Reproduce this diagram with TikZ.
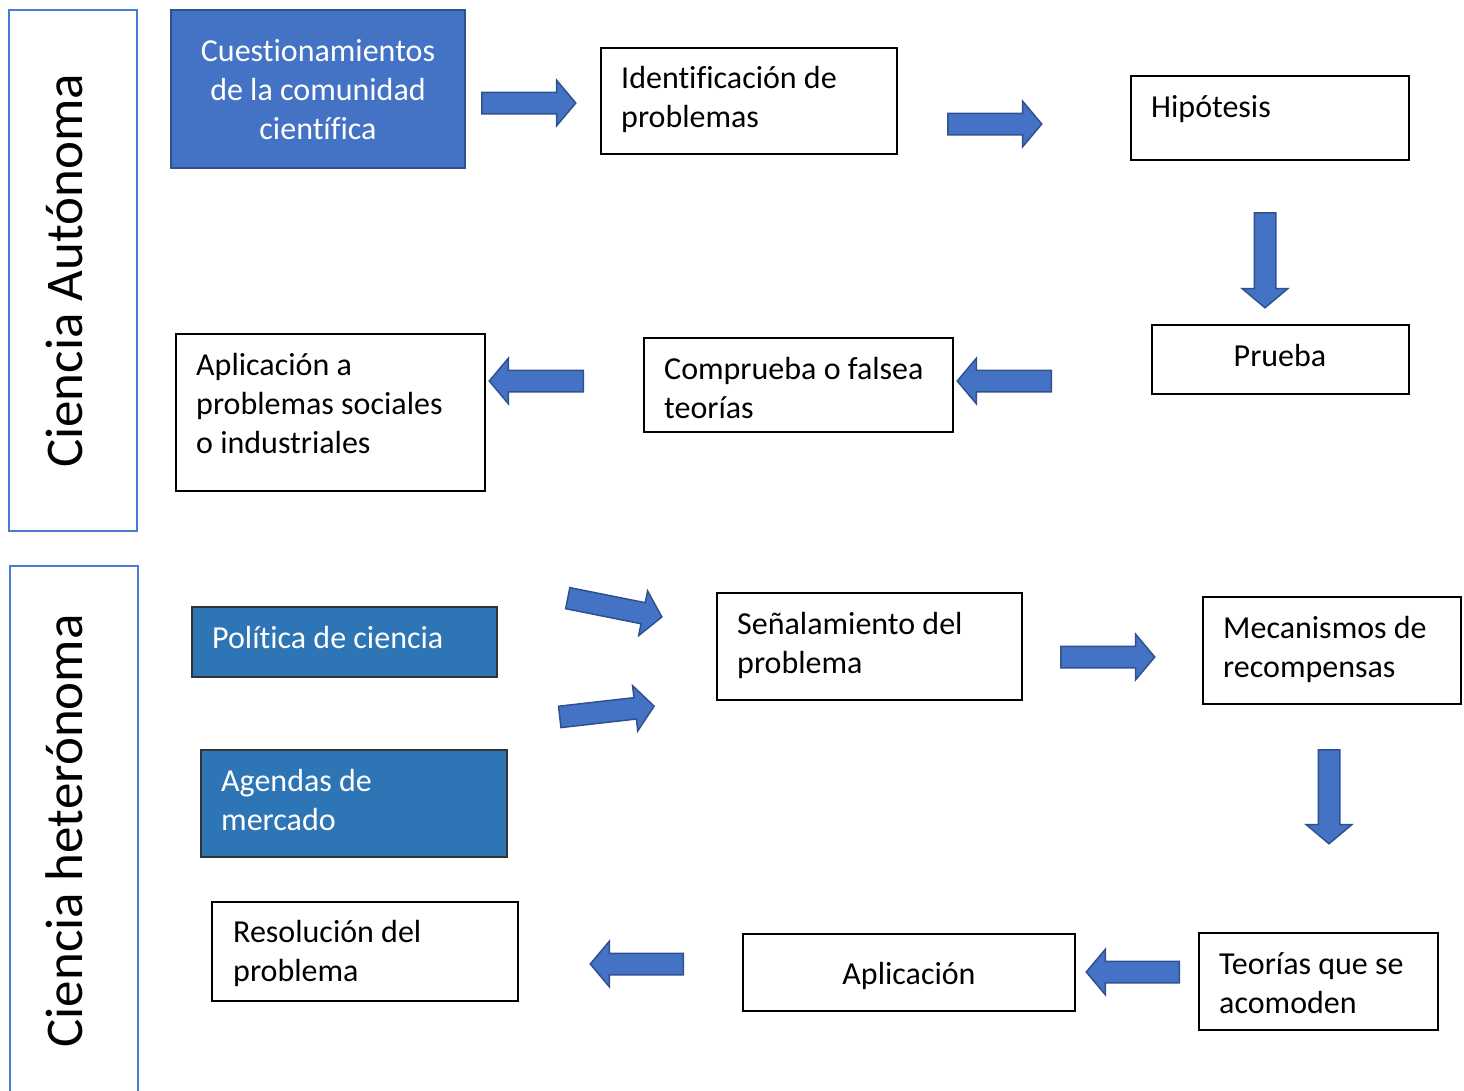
\documentclass[tikz,border=0pt]{standalone}
\usepackage{fontspec}
\setmainfont[Ligatures={NoCommon}]{Carlito}
\usetikzlibrary{shapes.arrows}
\definecolor{accent}{HTML}{4472C4}
\definecolor{accentdk}{HTML}{2F528F}
\definecolor{bluetwo}{HTML}{2E75B6}
\definecolor{panelcol}{HTML}{4A7BD2}
\newcommand\boxat[5]{\node[box,minimum width=#4pt,minimum height=#5pt] (#1) at (#2,#3) {};}
\begin{document}
\begin{tikzpicture}[x=1pt,y=-1pt,
  box/.style={draw=black,line width=1.2pt,inner sep=0pt,outer sep=0pt,anchor=north west},
  filledbox/.style={box,fill=accent,draw=accentdk,line width=2pt},
  filledboxtwo/.style={box,fill=bluetwo,draw=black!80,line width=1.2pt},
  txt/.style={inner sep=0pt,align=left,anchor=north west,font=\fontsize{32}{39}\selectfont},
  ctxt/.style={txt,align=center,anchor=north},
  panel/.style={draw=panelcol,line width=2.5pt},
  plabel/.style={rotate=90,inner sep=0pt,font=\fontsize{53}{64}\selectfont},
  barrow/.style={single arrow,draw=accentdk,fill=accent,line width=1.5pt,
    inner xsep=0pt,inner ysep=10pt,text height=0pt,text depth=0pt,text width=0pt,
    single arrow head extend=12pt,single arrow tip angle=100,anchor=tail,minimum height=94pt}
]
\useasboundingbox (0,0) rectangle (1464,1090);

% panels
\node[panel,draw,inner sep=0pt,outer sep=0pt,anchor=north west,minimum width=128pt,minimum height=521pt] (p1) at (9,10) {};
\node[plabel] (pl1) at (64,271) {Ciencia Autónoma};
\coordinate (p2a) at (10,1095);
\coordinate (p2b) at (10,566);
\coordinate (p2c) at (138,566);
\coordinate (p2d) at (138,1095);
\draw[panel] (p2a) -- (p2b) -- (p2c) -- (p2d);
\node[plabel] (pl2) at (64,831) {Ciencia heterónoma};

% top section boxes
\node[filledbox,minimum width=294pt,minimum height=158pt] (cq) at (171,10) {};
\node[ctxt,text=white] (cqt) at (318,34.2) {\strut Cuestionamientos\\de la comunidad\\científica};

\boxat{idp}{601}{48}{296}{106}
\node[txt] (idpt) at (621,61.2) {\strut Identificación de\\problemas};

\boxat{hip}{1131}{76}{278}{84}
\node[txt] (hipt) at (1151,90.2) {\strut Hipótesis};

\boxat{pru}{1152}{325}{257}{69}
\node[ctxt] (prut) at (1280,339.2) {\strut Prueba};

\boxat{com}{644}{338}{309}{94}
\node[txt] (comt) at (664,352.2) {\strut Comprueba o falsea\\teorías};

\boxat{apl}{176}{334}{309}{157}
\node[txt] (aplt) at (196,348.2) {\strut Aplicación a\\problemas sociales\\o industriales};

% bottom section boxes
\node[filledboxtwo,minimum width=305pt,minimum height=70pt] (pol) at (192,607) {};
\node[txt,text=white] (polt) at (212,621.2) {\strut Política de ciencia};

\node[filledboxtwo,minimum width=306pt,minimum height=107pt] (age) at (201,750) {};
\node[txt,text=white] (aget) at (221,764.2) {\strut Agendas de\\mercado};

\boxat{sen}{717}{593}{305}{107}
\node[txt] (sent) at (737,607.2) {\strut Señalamiento del\\problema};

\boxat{mec}{1203}{597}{258}{107}
\node[txt] (mect) at (1223,611.2) {\strut Mecanismos de\\recompensas};

\boxat{teo}{1199}{933}{239}{97}
\node[txt] (teot) at (1219,947.2) {\strut Teorías que se\\acomoden};

\node[box,line width=2.6pt,minimum width=332pt,minimum height=77pt] (apn) at (743,934) {};
\node[ctxt] (apnt) at (909,956.7) {\strut Aplicación};

\boxat{res}{212}{902}{306}{99}
\node[txt] (rest) at (233,915.2) {\strut Resolución del\\problema};

% block arrows
\node[barrow] (a1) at (481,103) {};
\node[barrow] (a2) at (947,124) {};
\node[barrow,rotate=-90,minimum height=95pt] (a3) at (1265,212) {};
\node[barrow,rotate=180] (a4) at (1052,381) {};
\node[barrow,rotate=180] (a5) at (584,381) {};
\node[barrow,rotate=-11.3,minimum height=96pt] (a6) at (567,598) {};
\node[barrow,rotate=6.5,minimum height=95pt] (a7) at (559,717) {};
\node[barrow] (a8) at (1060,657) {};
\node[barrow,rotate=-90] (a9) at (1329,749) {};
\node[barrow,rotate=180,minimum height=93pt] (a10) at (1180,972) {};
\node[barrow,rotate=180,minimum height=93pt] (a11) at (684,964) {};
\end{tikzpicture}
\end{document}
